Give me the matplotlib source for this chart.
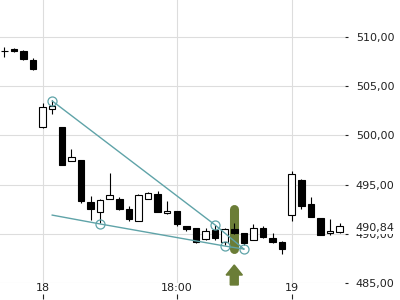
import numpy as np
import matplotlib
matplotlib.use("Agg")
import matplotlib.pyplot as plt
from matplotlib.patches import FancyArrow
from matplotlib.ticker import FuncFormatter


# Candles (one per bar slot, ordinal x axis)

opens = [508.60, 508.75, 508.60, 507.66, 500.88, 502.65, 500.82, 497.43, 497.50,
         493.23, 492.18, 493.50, 493.50, 492.49, 491.33, 493.54, 494.00, 492.08,
         492.32, 490.79, 490.56, 489.44, 490.39, 489.20, 490.46, 490.05, 489.37,
         490.56, 489.54, 489.20, 491.88, 495.47, 493.03, 491.57, 490.05, 490.15]
highs = [508.95, 508.90, 508.70, 507.87, 503.32, 503.60, 500.90, 498.65, 497.50,
         493.84, 493.50, 496.21, 493.71, 492.82, 494.04, 494.25, 494.32, 493.33,
         492.35, 490.80, 490.60, 490.56, 490.90, 490.56, 491.07, 490.10, 491.00,
         490.79, 490.05, 489.25, 496.38, 495.57, 493.71, 491.60, 491.48, 491.07]
lows = [508.00, 508.50, 507.70, 506.62, 500.75, 502.17, 497.00, 497.40, 493.16,
        491.40, 491.07, 493.50, 492.40, 491.33, 491.30, 493.50, 492.20, 492.05,
        490.82, 490.28, 489.03, 489.40, 489.40, 488.86, 490.00, 488.86, 489.35,
        489.60, 489.10, 487.95, 491.33, 492.55, 491.70, 489.85, 489.84, 490.10]
closes = [508.60, 508.55, 507.75, 506.72, 502.86, 502.99, 497.02, 497.78, 493.36,
          492.55, 493.43, 493.91, 492.49, 491.53, 493.94, 494.18, 492.25, 492.32,
          491.00, 490.52, 489.20, 490.25, 489.57, 490.46, 490.05, 489.10, 490.56,
          489.64, 489.13, 488.42, 496.08, 492.86, 491.74, 489.88, 490.28, 490.84]

# time labels sit on bar slots
time_ticks = [4, 18, 30]
time_labels = ["18", "18:00", "19"]
price_ticks = [485, 490, 495, 500, 505, 510]
last_price = 490.84

# drawn trend lines and their anchor points
upper_x = [5, 22, 25]
upper_y = [503.5, 490.9, 488.45]
lower_x = [5, 10, 23, 25]
lower_y = [491.9, 491.0, 488.76, 488.45]
pivot_x = [5, 22, 10, 23, 25]
pivot_y = [503.5, 490.9, 491.0, 488.76, 488.45]

# signal marker
signal_idx = 24
signal_top = 492.47
signal_bottom = 488.5
arrow_base = 484.8
arrow_tip = 486.83

TEAL = "#5fa3a8"
OLIVE = "#6b7d37"
GRID = "#dddddd"
TEXT = "#222222"

fig = plt.figure(figsize=(4, 3), dpi=100)
ax = fig.add_axes([0, 17 / 300, 345 / 400, 283 / 300])

idx = np.arange(len(opens))
o = np.array(opens)
c = np.array(closes)
up = c >= o

# wicks then bodies
ax.vlines(idx, lows, highs, color="black", linewidth=0.8, zorder=3)
ax.bar(idx, np.abs(c - o), bottom=np.minimum(o, c), width=0.68,
       color=np.where(up, "white", "black"), edgecolor="black",
       linewidth=0.8, zorder=4)

# signal bar behind the candle
ax.plot([signal_idx, signal_idx], [signal_bottom, signal_top], color=OLIVE,
        linewidth=6.5, solid_capstyle="round", zorder=2)
ax.add_patch(FancyArrow(signal_idx, arrow_base, 0, arrow_tip - arrow_base,
                        width=0.83, head_width=1.7, head_length=1.02,
                        length_includes_head=True, color=OLIVE,
                        clip_on=False, zorder=6))

# trend lines
ax.plot(upper_x, upper_y, color=TEAL, linewidth=1.0, zorder=5)
ax.plot(lower_x, lower_y, color=TEAL, linewidth=1.0, zorder=5)
ax.plot(pivot_x, pivot_y, linestyle="none", marker="o", markersize=6.5,
        markerfacecolor="none", markeredgecolor=TEAL, markeredgewidth=0.9,
        zorder=5)

ax.set_xlim(-0.45, 35.56)
ax.set_ylim(485, 513.76)

# axes styling
for side in ["top", "left", "bottom", "right"]:
    ax.spines[side].set_visible(False)
ax.set_xticks(time_ticks)
ax.set_xticklabels(time_labels)
ax.tick_params(axis="x", length=0, pad=0, labelsize=8, labelcolor=TEXT)

ax.yaxis.tick_right()
ax.set_yticks(price_ticks)
ax.yaxis.set_major_formatter(FuncFormatter(lambda v, p: f"{v:.2f}".replace(".", ",")))
ax.tick_params(axis="y", length=2.2, width=0.8, color=TEXT, pad=5.5,
               labelsize=8, labelcolor=TEXT)
ax.grid(True, color=GRID, linewidth=0.8, zorder=0)
ax.set_axisbelow(True)

# tick marks for time axis sit below the labels
sec = ax.secondary_xaxis(-16 / 283)
sec.set_xticks(time_ticks)
sec.tick_params(direction="in", length=3.6, width=0.8, color=TEXT, labelbottom=False)
sec.spines["bottom"].set_visible(False)

# last price label, lined up with the price labels, half covering 490,00
ax.annotate(f"{last_price:.2f}".replace(".", ","), xy=(1.0, last_price),
            xycoords=ax.get_yaxis_transform(), xytext=(7.7, -1.8),
            textcoords="offset points", ha="left", va="center",
            fontsize=8, color=TEXT, annotation_clip=False, zorder=10,
            bbox=dict(boxstyle="square,pad=0.12", facecolor="white", edgecolor="none"))

fig.savefig("out.png", dpi=100)
plt.close(fig)
